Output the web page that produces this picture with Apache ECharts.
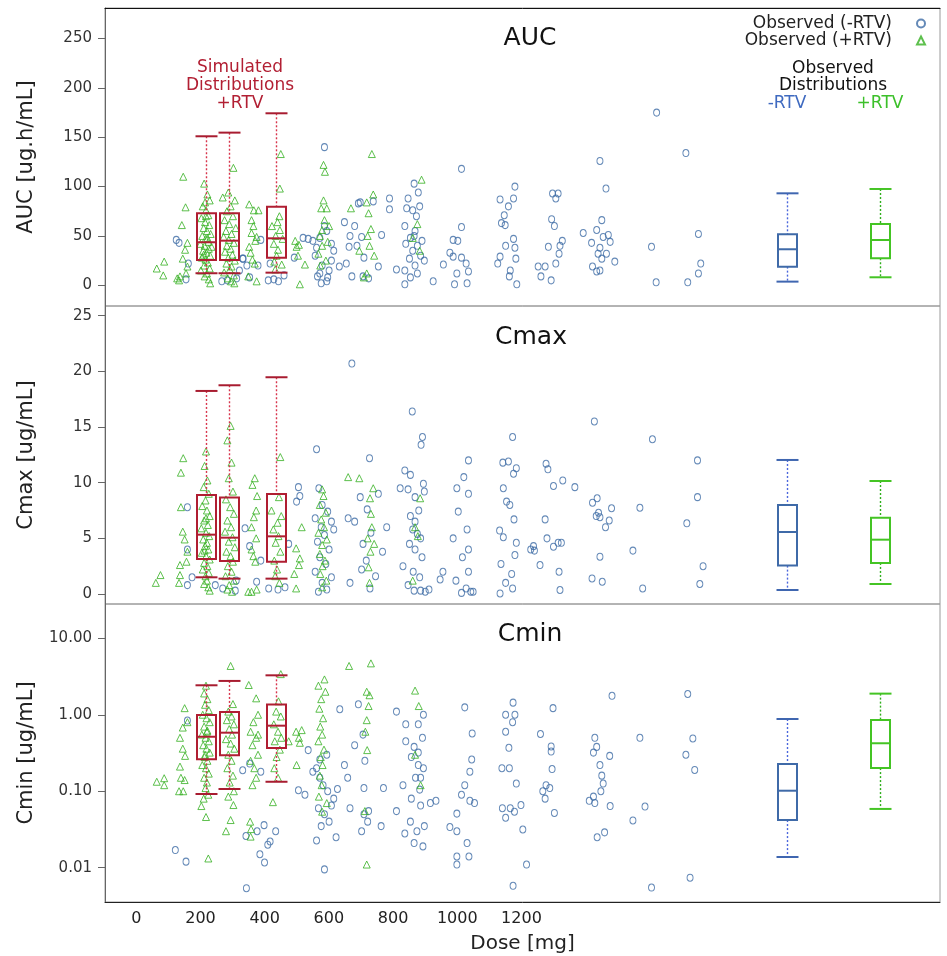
<!DOCTYPE html>
<html>
<head>
<meta charset="utf-8">
<script src="https://cdn.jsdelivr.net/npm/echarts@6/dist/echarts.min.js"></script>
<style>
  html, body { margin: 0; padding: 0; background: #ffffff; }
  #chart { width: 947px; height: 956px; }
</style>
</head>
<body>
<div id="chart"></div>
<script>
// ---- Dose axis labels ----
const doseTickLabels = [0, 200, 400, 600, 800, 1000, 1200];

// ---- Box positions (dose) ----
const simDoses = [150, 200, 300];
const obsBoxDoses = [1400, 1600];

// ---- Simulated distributions (+RTV): [low, q1, median, q3, high] ----
const simAUC  = [[12.2, 25.6, 43.6, 73.0, 151.0], [12.2, 25.6, 45.2, 73.0, 154.7], [12.8, 28.0, 47.6, 79.7, 174.3]];
const simCmax = [[1.50, 3.14, 5.33, 8.90, 18.24], [1.38, 2.96, 5.06, 8.66, 18.75], [1.38, 2.90, 5.18, 8.98, 19.47]];
const simCmin = [[0.092, 0.261, 0.516, 0.99, 2.43], [0.107, 0.295, 0.583, 1.09, 2.77], [0.133, 0.368, 0.72, 1.36, 3.28]];

// ---- Observed distributions: [low, q1, median, q3, high] ----
const obsAUCneg  = [3.7, 18.9, 36.5, 51.7, 93.2];
const obsAUCpos  = [8.1, 27.4, 45.9, 62.1, 97.6];
const obsCmaxNeg = [0.36, 2.55, 5.57, 8.0, 12.04];
const obsCmaxPos = [0.9, 2.79, 4.88, 6.86, 10.15];
const obsCminNeg = [0.0138, 0.042, 0.1016, 0.227, 0.88];
const obsCminPos = [0.0587, 0.201, 0.424, 0.855, 1.89];

// ---- Observed individual values [dose (jittered), value] ----
const aucNeg = [
  [86,46],[92,43],[112,22],[107,6],
  [230,27],[184,4],[216,7],[196,5],[222,15],[238,20],
  [229,27],[268,46],[262,20],[244,8],
  [288,22],[284,5],[306,4],[296,6],[318,10],
  [359,48],[370,47],[340,28],
  [405,140],[388,38],[395,48],[410,55],[420,42],[385,30],[400,20],[415,15],[390,9],[410,4],[398,2],[420,25],[405,60],[380,45],[425,35],[395,12],[412,8],
  [448,64],[458,39],[437,19],[452,22],[464,9],[478,83],[482,84],[485,49],[470,60],[490,28],[488,9],[500,7],[521,19],[528,51],[545,88],[545,77],[510,85],[460,50],[475,40],
  [598,103],[607,94],[585,88],[582,78],[595,76],[610,80],[603,70],[578,60],[600,55],[590,48],[615,45],[580,42],[605,40],[595,35],[612,30],[588,27],[600,20],[578,15],[605,12],[590,8],[578,1],[639,4],[661,21],[560,16],[620,25],[598,50],
  [700,118],[700,59],[682,46],[692,45],[682,29],[700,28],[710,22],[690,12],[715,14],[685,1],[712,2],[675,33],
  [815,100],[812,88],[783,87],[801,80],[792,71],[786,63],[794,61],[812,47],[795,40],[815,38],[783,29],[778,22],[817,27],[803,9],[819,1],[805,15],
  [896,93],[908,93],[903,88],[894,67],[887,39],[917,45],[912,40],[910,32],[903,22],[865,19],[880,19],[871,9],[893,5],[900,60],
  [998,126],[1011,98],[1002,66],[991,56],[962,53],[1016,51],[1005,49],[1020,44],[980,43],[998,38],[994,32],[1012,32],[1002,27],[1030,24],[982,19],[991,14],[998,15],
  [1120,175],[1109,39],[1119,3],
  [1183,134],[1210,52],[1215,22],[1210,12],[1187,3]
];
const aucPos = [
  [44,17],[60,24],[58,10],[101,110],[106,79],[98,61],[110,43],[105,36],[100,27],[110,19],[94,9],[107,12],[88,7],[92,5],
  [146,103],[153,92],[158,86],[143,80],[150,76],[155,71],[140,68],[148,64],[157,61],[145,58],[152,55],[160,52],[142,50],[149,47],[155,44],[138,42],[147,40],[156,37],[144,35],[151,33],[159,30],[141,28],[149,26],[154,23],[146,20],[158,17],[139,15],[152,12],[147,9],[156,6],[159,2],[150,70],[153,48],[145,31],[148,84],[162,39],
  [209,119],[198,94],[212,86],[186,89],[203,80],[195,75],[208,70],[190,66],[200,62],[214,58],[193,55],[205,52],[188,49],[199,46],[210,43],[195,40],[203,37],[191,34],[207,31],[198,28],[212,25],[194,22],[205,19],[201,16],[189,13],[210,10],[197,7],[204,4],[211,2],
  [243,82],[253,76],[263,76],[248,66],[248,53],[259,49],[243,39],[255,22],[250,26],[241,9],[259,4],[252,60],[246,33],[256,45],
  [311,133],[309,98],[304,64],[309,56],[300,50],[296,42],[305,36],[313,21],[297,24],[308,70],[302,30],[292,60],[315,47],[299,16],
  [345,39],[350,41],[342,45],[363,21],[352,1],[348,30],
  [403,122],[406,115],[403,86],[410,78],[398,78],[400,56],[405,66],[395,50],[412,44],[392,32],[408,25],[400,40],[415,60],[396,20],
  [462,78],[507,133],[510,92],[496,84],[500,73],[505,57],[498,50],[502,40],[496,12],[490,8],[512,30],[480,35],
  [614,107],[605,62],[595,48],[610,35]
];

const cmaxNeg = [
  [110,7.8],[110,4.0],[110,0.8],[120,1.5],
  [186,0.5],[215,1.2],[213,0.3],[170,0.8],
  [234,5.9],[244,4.3],[259,1.1],[268,3.0],
  [320,0.6],[305,0.4],[328,4.5],[285,0.5],
  [349,9.6],[345,8.3],[352,8.8],
  [388,13.0],[393,9.5],[400,8.0],[412,7.4],[385,6.8],[420,6.5],[398,6.0],[405,5.3],[390,4.7],[415,4.0],[395,3.3],[408,2.7],[385,2.0],[420,1.5],[400,1.0],[410,0.4],[392,0.2],[425,5.8],
  [464,20.7],[502,12.2],[482,8.7],[497,7.6],[470,6.5],[456,6.8],[539,6.0],[488,4.5],[521,9.0],[505,5.5],[495,3.0],[485,2.2],[503,0.5],[515,1.6],[530,3.8],[460,1.0],
  [594,16.4],[616,14.1],[613,13.4],[578,11.1],[590,10.7],[568,9.5],[585,9.4],[618,9.9],[620,9.2],[600,8.7],[608,7.5],[590,7.0],[600,6.5],[595,5.8],[605,5.4],[612,5.0],[588,4.5],[600,4.0],[615,3.3],[574,2.5],[596,2.0],[610,1.5],[585,0.8],[598,0.3],[612,0.3],[622,0.2],[654,1.3],[660,2.0],[630,0.4],
  [715,12.0],[705,10.5],[690,9.5],[715,9.0],[693,7.4],[682,5.0],[712,5.8],[715,4.0],[702,3.3],[715,2.0],[688,1.2],[710,0.5],[720,0.2],[700,0.1],[725,0.2],
  [810,14.1],[789,11.8],[801,11.9],[818,11.3],[812,10.8],[790,9.5],[797,8.3],[804,8.0],[813,6.7],[782,5.7],[790,5.1],[818,4.6],[815,3.5],[785,2.7],[808,1.8],[795,1.0],[783,0.05],[810,0.5],
  [882,11.7],[886,11.2],[898,9.7],[918,10.2],[944,9.6],[880,6.7],[884,5.0],[898,4.25],[908,4.6],[915,4.6],[849,4.0],[855,4.3],[857,3.9],[869,2.6],[912,0.36],[910,2.0],
  [986,15.5],[992,8.6],[982,8.2],[995,7.3],[990,7.0],[998,6.9],[1018,6.6],[1023,7.7],[998,3.35],[981,1.4],[1003,1.1],[1010,6.0],
  [1084,7.75],[1069,3.9],[1090,0.5],[1111,13.9],
  [1208,12.0],[1208,8.7],[1185,6.35],[1220,2.5],[1213,0.9]
];
const cmaxPos = [
  [42,1.0],[52,1.7],[101,12.2],[96,10.9],[96,7.8],[100,5.6],[104,4.9],[94,2.6],[108,2.9],[94,1.7],[92,1.0],[110,3.8],
  [150,12.8],[147,11.5],[153,10.2],[145,9.6],[156,9.0],[149,8.4],[142,7.9],[152,7.5],[158,7.0],[146,6.6],[154,6.2],[140,5.9],[150,5.5],[157,5.2],[144,4.9],[152,4.6],[148,4.3],[155,4.0],[141,3.7],[150,3.4],[158,3.1],[146,2.8],[153,2.5],[143,2.2],[156,1.9],[149,1.6],[152,1.2],[146,0.9],[155,0.6],[158,0.3],[150,6.8],[147,3.9],
  [203,15.1],[196,13.8],[205,11.8],[199,10.4],[208,9.2],[193,8.5],[202,7.8],[210,7.2],[196,6.6],[204,6.0],[191,5.6],[207,5.1],[199,4.7],[212,4.2],[194,3.8],[203,3.4],[208,2.9],[197,2.5],[205,2.0],[192,1.6],[210,1.2],[200,0.8],[196,0.4],[206,0.2],
  [255,10.4],[250,9.8],[260,8.8],[258,7.5],[253,6.9],[248,6.0],[258,5.0],[248,4.0],[256,2.9],[248,0.2],[241,0.2],[259,0.4],[252,3.4],
  [310,12.3],[307,8.7],[291,7.5],[312,7.0],[304,6.4],[295,5.8],[306,5.2],[300,4.6],[310,3.8],[297,3.0],[303,2.2],[299,1.6],[308,1.0],
  [344,4.1],[356,6.0],[352,3.2],[350,2.6],[344,0.5],[340,1.8],
  [400,9.4],[403,8.8],[395,8.0],[408,7.3],[398,6.7],[404,6.0],[392,5.5],[410,4.9],[400,4.4],[395,3.6],[406,3.0],[401,2.5],[396,1.8],[409,1.2],[400,0.6],
  [456,10.5],[510,9.5],[503,8.6],[505,7.2],[507,6.0],[498,5.0],[504,3.8],[500,2.4],[502,1.0],[480,10.4],[512,4.5],
  [611,8.6],[600,6.0],[606,5.2],[595,1.2]
];

const cminNeg = [
  [110,0.84],[84,0.017],[107,0.012],
  [236,0.026],[237,0.0054],[229,0.188],[244,0.23],[268,0.18],[275,0.036],[260,0.03],[300,0.03],[288,0.022],[283,0.02],[266,0.015],[276,0.0117],
  [370,0.345],[349,0.103],[363,0.09],
  [380,0.18],[395,0.15],[402,0.12],[412,0.1],[388,0.2],[420,0.065],[405,0.05],[425,0.08],[398,0.035],[415,0.04],[388,0.0227],[405,0.0095],[438,1.18],[395,0.26],[410,0.3],[392,0.06],[430,0.025],
  [478,1.37],[488,0.55],[492,0.25],[448,0.22],[433,0.107],[490,0.11],[532,0.11],[460,0.06],[490,0.05],[500,0.055],[527,0.035],[485,0.03],[498,0.04],[470,0.4],[455,0.15],
  [560,1.1],[580,0.75],[607,0.75],[618,1.0],[616,0.5],[580,0.45],[598,0.38],[607,0.32],[592,0.28],[607,0.22],[618,0.2],[601,0.15],[612,0.15],[574,0.12],[610,0.105],[592,0.08],[612,0.065],[633,0.07],[645,0.075],[560,0.055],[578,0.028],[598,0.021],[617,0.019],[590,0.04],[604,0.03],[620,0.035],
  [707,1.25],[723,0.57],[722,0.26],[718,0.18],[707,0.12],[700,0.09],[718,0.075],[728,0.07],[690,0.051],[675,0.034],[712,0.021],[690,0.014],[690,0.011],[716,0.014],[690,0.03],
  [811,1.44],[795,1.0],[815,1.0],[810,0.8],[795,0.6],[802,0.37],[787,0.2],[803,0.2],[818,0.126],[788,0.06],[805,0.06],[814,0.054],[828,0.066],[832,0.0316],[840,0.011],[811,0.0058],[795,0.045],
  [897,1.22],[870,0.56],[893,0.385],[893,0.33],[895,0.195],[882,0.12],[875,0.1],[890,0.11],[900,0.052],[880,0.08],
  [1024,1.77],[987,0.5],[991,0.38],[984,0.32],[1019,0.29],[998,0.22],[1002,0.16],[1005,0.126],[1000,0.1],[984,0.085],[975,0.075],[987,0.07],[1020,0.064],[1008,0.029],[992,0.025],
  [1084,0.5],[1095,0.063],[1069,0.0415],[1109,0.0055],
  [1187,1.87],[1198,0.49],[1183,0.3],[1202,0.19],[1192,0.0074]
];
const cminPos = [
  [44,0.133],[60,0.148],[60,0.12],[104,1.22],[100,0.68],[94,0.5],[100,0.36],[105,0.29],[94,0.21],[96,0.15],[104,0.14],[92,0.1],[101,0.1],[110,0.8],
  [150,2.4],[146,1.9],[153,1.6],[148,1.35],[156,1.15],[143,1.0],[151,0.9],[158,0.8],[146,0.7],[153,0.62],[141,0.55],[149,0.5],[156,0.45],[144,0.4],[151,0.36],[158,0.32],[147,0.28],[153,0.25],[142,0.22],[150,0.2],[156,0.17],[146,0.15],[152,0.13],[149,0.11],[155,0.09],[145,0.08],[140,0.064],[150,0.046],[155,0.0132],[152,0.6],[148,0.3],
  [203,4.35],[208,1.38],[198,1.1],[205,0.95],[195,0.85],[210,0.75],[200,0.65],[206,0.55],[193,0.48],[203,0.42],[211,0.36],[198,0.3],[205,0.25],[196,0.2],[208,0.16],[201,0.13],[210,0.1],[198,0.085],[209,0.066],[203,0.042],[193,0.03],
  [242,2.45],[258,1.64],[262,1.0],[252,0.8],[246,0.6],[258,0.5],[250,0.4],[262,0.3],[246,0.25],[254,0.2],[258,0.15],[250,0.12],[245,0.04],[247,0.032],[246,0.0255],[262,0.55],
  [311,3.4],[306,1.5],[301,1.1],[311,0.95],[296,0.75],[305,0.6],[298,0.45],[309,0.35],[302,0.28],[297,0.2],[305,0.15],[294,0.072],[312,0.5],
  [328,0.45],[344,0.6],[350,0.5],[356,0.63],[352,0.43],[345,0.22],
  [405,2.9],[392,2.4],[407,2.0],[398,1.6],[394,1.2],[402,0.9],[396,0.7],[400,0.55],[392,0.45],[404,0.35],[397,0.28],[401,0.22],[395,0.16],[399,0.12],[393,0.085],[400,0.054],[410,0.07],
  [458,4.35],[505,4.7],[496,2.0],[500,1.3],[496,0.85],[493,0.6],[497,0.345],[492,0.055],[496,0.011],[502,1.8],
  [600,2.07],[608,1.3],[612,0.12],[600,0.3]
];

// ---- Styling ----
const FONT = 'DejaVu Sans';
const BLUE = '#3d6ba5';
const GREEN = '#36b022';
const RED = '#b21f33';
const palSim = { box: '#b01e32', cap: '#a81c30', whisker: '#d8344c' };
const palNeg = { box: '#3f6aa8', cap: '#3f66b0', whisker: '#4a66dd' };
const palPos = { box: '#44c424', cap: '#44c424', whisker: '#2fae1c' };

const doseMin = -67.4, doseMax = 1730;
const grids = [
  { left: 105, right: 7, top: 8, height: 298 },
  { left: 105, right: 7, top: 306, height: 298 },
  { left: 105, right: 7, top: 604, height: 298 }
];

const log10 = v => Math.log10(v);
const logPts = arr => arr.map(p => [p[0], log10(p[1])]);
const boxRows = (doses, stats, f) => doses.map((d, i) => [d].concat(stats[i].map(f || (v => v))));

function boxRenderer(pal) {
  return function (params, api) {
    const x = api.value(0);
    const pt = v => api.coord([x, v]);
    const lo = pt(api.value(1)), q1 = pt(api.value(2)), md = pt(api.value(3));
    const q3 = pt(api.value(4)), hi = pt(api.value(5));
    const cx = Math.round(lo[0]) + 0.5, bw = 9.5, cw = 11;
    const dash = { stroke: pal.whisker, lineWidth: 1.4, lineDash: [2, 2], fill: null };
    const solid = (c, w) => ({ stroke: c, lineWidth: w, fill: null });
    return {
      type: 'group',
      children: [
        { type: 'line', shape: { x1: cx, y1: hi[1], x2: cx, y2: q3[1] }, style: dash },
        { type: 'line', shape: { x1: cx, y1: q1[1], x2: cx, y2: lo[1] }, style: dash },
        { type: 'line', shape: { x1: cx - cw, y1: hi[1], x2: cx + cw, y2: hi[1] }, style: solid(pal.cap, 2) },
        { type: 'line', shape: { x1: cx - cw, y1: lo[1], x2: cx + cw, y2: lo[1] }, style: solid(pal.cap, 2) },
        { type: 'rect', shape: { x: cx - bw, y: q3[1], width: 2 * bw, height: q1[1] - q3[1] }, style: solid(pal.box, 2) },
        { type: 'line', shape: { x1: cx - bw, y1: md[1], x2: cx + bw, y2: md[1] }, style: solid(pal.box, 2) }
      ]
    };
  };
}

function boxSeries(gi, rows, pal) {
  return {
    type: 'custom', xAxisIndex: gi, yAxisIndex: gi, silent: true, z: 5,
    renderItem: boxRenderer(pal),
    encode: { x: 0, y: [1, 2, 3, 4, 5] },
    data: rows
  };
}

function scatterSeries(gi, name, pts, symbol, color, size) {
  return {
    type: 'scatter', name: name, xAxisIndex: gi, yAxisIndex: gi, silent: true, z: 3,
    symbol: symbol, symbolSize: size,
    itemStyle: { color: 'rgba(0,0,0,0)', borderColor: color, borderWidth: 1 },
    emphasis: { disabled: true },
    data: pts
  };
}

const NEG = 'Observed (-RTV)', POS = 'Observed (+RTV)';

function yAxis(gi, name, min, max, ticks, fmt) {
  return {
    gridIndex: gi, type: 'value', min: min, max: max, position: 'left',
    name: name, nameLocation: 'middle', nameGap: 68,
    nameTextStyle: { fontFamily: FONT, fontSize: 21, color: '#222' },
    axisLine: { show: true, onZero: false, lineStyle: { color: '#666' } },
    axisTick: { show: true, length: 7, lineStyle: { color: '#666' }, customValues: ticks },
    axisLabel: { fontFamily: FONT, fontSize: 15, color: '#333', margin: 13, customValues: ticks, formatter: fmt },
    splitLine: { show: false }
  };
}

const option = {
  animation: false,
  backgroundColor: '#ffffff',
  grid: grids.map(g => Object.assign({ show: true, borderColor: '#9a9a9a', borderWidth: 1, containLabel: false }, g)),
  xAxis: [
    { gridIndex: 0, type: 'value', min: doseMin, max: doseMax, position: 'top',
      axisLine: { show: true, onZero: false, lineStyle: { color: '#111' } }, axisTick: { show: false },
      axisLabel: { show: false }, splitLine: { show: false } },
    { gridIndex: 1, type: 'value', min: doseMin, max: doseMax, show: false },
    { gridIndex: 2, type: 'value', min: doseMin, max: doseMax, show: false },
    { gridIndex: 2, type: 'value', min: -97.5, max: 2504, position: 'bottom',
      name: 'Dose [mg]', nameLocation: 'middle', nameGap: 32,
      nameTextStyle: { fontFamily: FONT, fontSize: 20, color: '#222' },
      axisLine: { show: true, onZero: false, lineStyle: { color: '#222' } }, axisTick: { show: false },
      axisLabel: { fontFamily: FONT, fontSize: 16, color: '#222', margin: 9,
        customValues: doseTickLabels, formatter: v => String(v) },
      splitLine: { show: false } }
  ],
  yAxis: [
    yAxis(0, 'AUC [ug.h/mL]', -21, 281, [0, 50, 100, 150, 200, 250]),
    yAxis(1, 'Cmax [ug/mL]', -0.898, 25.87, [0, 5, 10, 15, 20, 25]),
    yAxis(2, 'Cmin [ug/mL]', -2.4485, 1.4485, [-2, -1, 0, 1], v => Math.pow(10, v).toFixed(2))
  ],
  legend: {
    data: [NEG, POS], orient: 'vertical', right: 16, top: 10, align: 'right',
    itemWidth: 8, itemHeight: 8, itemGap: 0, selectedMode: false,
    textStyle: { fontFamily: FONT, fontSize: 17, color: '#222', lineHeight: 16, padding: [0, 20, 0, 0] }
  },
  graphic: [
    { type: 'text', x: 530, y: 38, silent: true, style: { text: 'AUC', font: '25px "DejaVu Sans"', fill: '#111', align: 'center', verticalAlign: 'middle' } },
    { type: 'text', x: 531, y: 337, silent: true, style: { text: 'Cmax', font: '25px "DejaVu Sans"', fill: '#111', align: 'center', verticalAlign: 'middle' } },
    { type: 'text', x: 530, y: 634, silent: true, style: { text: 'Cmin', font: '25px "DejaVu Sans"', fill: '#111', align: 'center', verticalAlign: 'middle' } },
    { type: 'text', x: 240, y: 86, silent: true, style: { text: 'Simulated\nDistributions\n+RTV', font: '17px "DejaVu Sans"', lineHeight: 18, fill: RED, align: 'center', verticalAlign: 'middle' } },
    { type: 'text', x: 833, y: 77, silent: true, style: { text: 'Observed\nDistributions', font: '17px "DejaVu Sans"', lineHeight: 17, fill: '#111', align: 'center', verticalAlign: 'middle' } },
    { type: 'text', x: 787, y: 104, silent: true, style: { text: '-RTV', font: '17px "DejaVu Sans"', fill: '#3f6ac0', align: 'center', verticalAlign: 'middle' } },
    { type: 'text', x: 880, y: 104, silent: true, style: { text: '+RTV', font: '17px "DejaVu Sans"', fill: '#3cc02a', align: 'center', verticalAlign: 'middle' } }
  ],
  series: [
    scatterSeries(0, NEG, aucNeg, 'circle', BLUE, [6, 7]),
    scatterSeries(0, POS, aucPos, 'triangle', GREEN, 7),
    boxSeries(0, boxRows(simDoses, simAUC), palSim),
    boxSeries(0, boxRows([obsBoxDoses[0]], [obsAUCneg]), palNeg),
    boxSeries(0, boxRows([obsBoxDoses[1]], [obsAUCpos]), palPos),

    scatterSeries(1, NEG, cmaxNeg, 'circle', BLUE, [6, 7]),
    scatterSeries(1, POS, cmaxPos, 'triangle', GREEN, 7),
    boxSeries(1, boxRows(simDoses, simCmax), palSim),
    boxSeries(1, boxRows([obsBoxDoses[0]], [obsCmaxNeg]), palNeg),
    boxSeries(1, boxRows([obsBoxDoses[1]], [obsCmaxPos]), palPos),

    scatterSeries(2, NEG, logPts(cminNeg), 'circle', BLUE, [6, 7]),
    scatterSeries(2, POS, logPts(cminPos), 'triangle', GREEN, 7),
    boxSeries(2, boxRows(simDoses, simCmin, log10), palSim),
    boxSeries(2, boxRows([obsBoxDoses[0]], [obsCminNeg], log10), palNeg),
    boxSeries(2, boxRows([obsBoxDoses[1]], [obsCminPos], log10), palPos)
  ]
};

const chart = echarts.init(document.getElementById('chart'), null, { renderer: 'canvas' });
chart.setOption(option);
</script>
</body>
</html>
